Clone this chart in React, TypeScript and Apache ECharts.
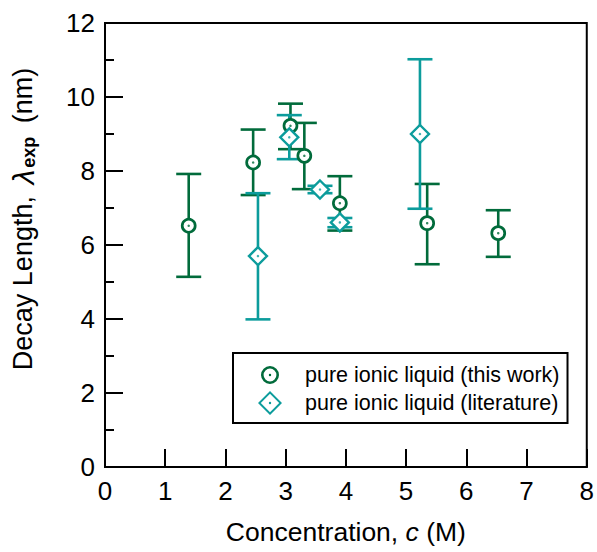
import React, { useEffect, useRef } from "react";
import * as echarts from "echarts";

const concThis = [1.39, 2.46, 3.08, 3.31, 3.9, 5.35, 6.53];
const lambdaThis = [6.52, 8.23, 9.22, 8.41, 7.13, 6.59, 6.32];
const hiThis = [7.92, 9.12, 9.82, 9.3, 7.86, 7.65, 6.94];
const loThis = [5.14, 7.35, 8.59, 7.51, 6.39, 5.48, 5.68];

const concLit = [2.54, 3.06, 3.57, 3.9, 5.23];
const lambdaLit = [5.7, 8.91, 7.5, 6.61, 9.0];
const hiLit = [7.4, 9.51, 7.6, 6.73, 11.02];
const loLit = [3.99, 8.32, 7.4, 6.48, 6.98];

const seriesNames = ["pure ionic liquid (this work)", "pure ionic liquid (literature)"];

const GREEN = "#016B3B";
const TEAL = "#0C9C9C";
const FONT = "'Liberation Sans', Arial, sans-serif";

const circleIcon =
  "path://M-12 -12 L-12 -12 Z M12 12 L12 12 Z M0 -9 A9 9 0 1 1 0 9 A9 9 0 1 1 0 -9 Z M0 -6.4 A6.4 6.4 0 1 0 0 6.4 A6.4 6.4 0 1 0 0 -6.4 Z M0 -1.2 A1.2 1.2 0 1 1 0 1.2 A1.2 1.2 0 1 1 0 -1.2 Z";
const diamondIcon =
  "path://M0 -12 L12 0 L0 12 L-12 0 Z M0 -9.2 L-9.2 0 L0 9.2 L9.2 0 Z M0 -1.2 A1.2 1.2 0 1 1 0 1.2 A1.2 1.2 0 1 1 0 -1.2 Z";

function errorSeries(xs: number[], lo: number[], hi: number[], color: string) {
  return {
    type: "custom",
    silent: true,
    data: xs.map((x, i) => [x, lo[i], hi[i]]),
    renderItem: (params: any, api: any) => {
      const x = api.value(0);
      const top = api.coord([x, api.value(2)]);
      const bot = api.coord([x, api.value(1)]);
      const hw = 12.5;
      const style = { stroke: color, lineWidth: 2.6 };
      return {
        type: "group",
        children: [
          { type: "line", shape: { x1: top[0], y1: top[1], x2: bot[0], y2: bot[1] }, style },
          { type: "line", shape: { x1: top[0] - hw, y1: top[1], x2: top[0] + hw, y2: top[1] }, style },
          { type: "line", shape: { x1: bot[0] - hw, y1: bot[1], x2: bot[0] + hw, y2: bot[1] }, style },
        ],
      };
    },
    z: 2,
  };
}

export default function App() {
  const ref = useRef<HTMLDivElement>(null);
  useEffect(() => {
    if (!ref.current) return;
    const chart = echarts.init(ref.current, undefined, { renderer: "svg" });
    const thisPts = concThis.map((x, i) => [x, lambdaThis[i]]);
    const litPts = concLit.map((x, i) => [x, lambdaLit[i]]);
    chart.setOption({
      animation: false,
      backgroundColor: "#fff",
      textStyle: { fontFamily: FONT },
      grid: {
        left: 105,
        top: 23,
        right: 7,
        bottom: 85,
        show: true,
        borderColor: "#000",
        borderWidth: 2,
      },
      legend: {
        left: 233,
        top: 353,
        orient: "vertical",
        borderColor: "#000",
        borderWidth: 2,
        borderRadius: 0,
        backgroundColor: "#fff",
        padding: [10, 8, 8, 25],
        itemWidth: 24,
        itemHeight: 24,
        itemGap: 4,
        textStyle: { fontSize: 21.5, color: "#000", fontFamily: FONT, padding: [0, 0, 0, 18] },
        data: [
          { name: seriesNames[0], icon: circleIcon, itemStyle: { color: GREEN, borderWidth: 0 } },
          { name: seriesNames[1], icon: diamondIcon, itemStyle: { color: TEAL, borderWidth: 0 } },
        ],
      },
      xAxis: {
        type: "value",
        min: 0,
        max: 8,
        interval: 1,
        name: "Concentration, {i|c} (M)",
        nameLocation: "middle",
        nameGap: 51,
        nameTextStyle: {
          fontSize: 26.5,
          color: "#000",
          fontFamily: FONT,
          rich: { i: { fontSize: 26.5, fontStyle: "italic", color: "#000", fontFamily: FONT } },
        },
        axisLine: { lineStyle: { color: "#000", width: 2 } },
        axisTick: { inside: true, length: 18, lineStyle: { color: "#000", width: 2 } },
        axisLabel: { fontSize: 26, color: "#000", margin: 11, fontFamily: FONT },
        splitLine: { show: false },
      },
      yAxis: {
        type: "value",
        min: 0,
        max: 12,
        interval: 2,
        name: "Decay Length, {l|λ}{s|exp} (nm)",
        nameLocation: "middle",
        nameGap: 67,
        nameTextStyle: {
          fontSize: 27,
          color: "#000",
          fontFamily: FONT,
          padding: [0, 0, 0, 52],
          rich: {
            l: { fontSize: 30, fontStyle: "italic", color: "#000", fontFamily: FONT, padding: [0, 2, 0, 4] },
            s: {
              fontSize: 18,
              fontWeight: "bold",
              color: "#000",
              fontFamily: FONT,
              verticalAlign: "bottom",
              lineHeight: 20,
              padding: [12, 6, 0, 0],
            },
          },
        },
        axisLine: { lineStyle: { color: "#000", width: 2 } },
        axisTick: { inside: true, length: 18, lineStyle: { color: "#000", width: 2 } },
        minorTick: { show: true, splitNumber: 2, length: 9, lineStyle: { color: "#000", width: 2 } },
        axisLabel: { fontSize: 26, color: "#000", margin: 10, fontFamily: FONT },
        splitLine: { show: false },
        minorSplitLine: { show: false },
      },
      series: [
        { ...errorSeries(concThis, loThis, hiThis, GREEN), name: seriesNames[0] },
        {
          type: "scatter",
          name: seriesNames[0],
          data: thisPts,
          symbol: "circle",
          symbolSize: 13,
          itemStyle: { color: "#fff", borderColor: GREEN, borderWidth: 2.7, opacity: 1 },
          z: 3,
        },
        {
          type: "scatter",
          name: "dotThis",
          data: thisPts,
          symbol: "circle",
          symbolSize: 2.5,
          itemStyle: { color: GREEN },
          z: 4,
        },
        { ...errorSeries(concLit, loLit, hiLit, TEAL), name: seriesNames[1] },
        {
          type: "scatter",
          name: seriesNames[1],
          data: litPts,
          symbol: "diamond",
          symbolSize: 18,
          itemStyle: { color: "#fff", borderColor: TEAL, borderWidth: 2.4, opacity: 1 },
          z: 3,
        },
        {
          type: "scatter",
          name: "dotLit",
          data: litPts,
          symbol: "circle",
          symbolSize: 2.5,
          itemStyle: { color: TEAL },
          z: 4,
        },
      ],
    });
    return () => chart.dispose();
  }, []);
  return (
    <div
      ref={ref}
      style={{ position: "fixed", left: 0, top: 0, width: 597, height: 552, background: "#fff" }}
    />
  );
}
